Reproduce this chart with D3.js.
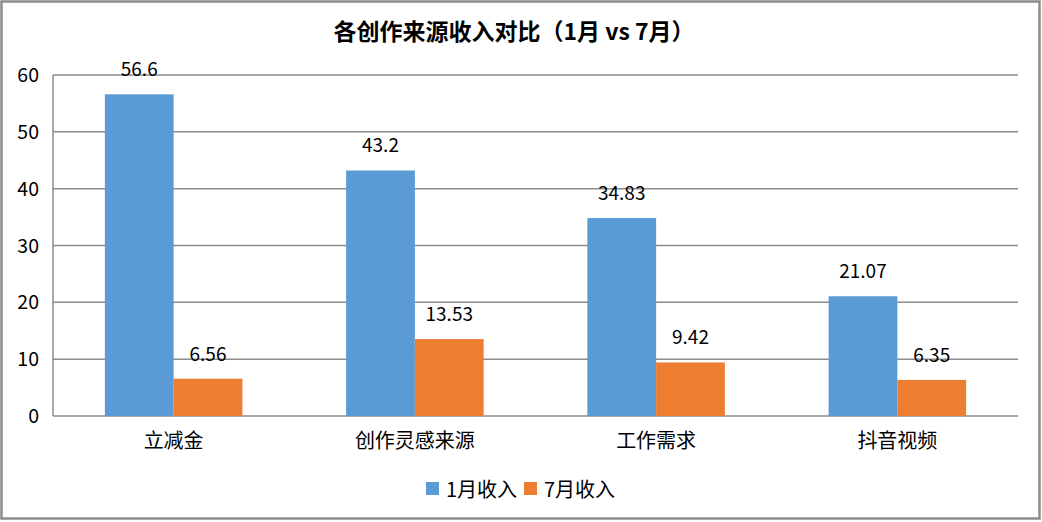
<!DOCTYPE html>
<html>
<head>
<meta charset="utf-8">
<script src="https://cdn.jsdelivr.net/npm/d3@7"></script>
<style>
  body { margin: 0; background: #fff; }
  text { font-family: "Noto Sans CJK SC", "Noto Sans", sans-serif; fill: #000; }
</style>
</head>
<body>
<div class="chart"></div>
<script>
const categories = ['立减金', '创作灵感来源', '工作需求', '抖音视频'];
const seriesNames = ['1月收入', '7月收入'];
const janValues = [56.6, 43.2, 34.83, 21.07];
const julValues = [6.56, 13.53, 9.42, 6.35];
const yTicks = [0, 10, 20, 30, 40, 50, 60];
const colors = ['#5b9bd5', '#ed7d31'];

const width = 1042;
const height = 522;
const margin = {top: 75, right: 24, bottom: 106, left: 53};

const svg = d3.select('.chart')
  .append('svg')
    .attr('width', width)
    .attr('height', height);

// outer border
svg.append('rect')
  .attr('x', 1.5).attr('y', 1.5)
  .attr('width', width - 4).attr('height', height - 5)
  .attr('fill', '#fff')
  .attr('stroke', '#8c8c8c')
  .attr('stroke-width', 2.5);

const x0 = d3.scaleBand()
  .domain(categories)
  .range([margin.left, width - margin.right]);

const x1 = d3.scaleBand()
  .domain(seriesNames)
  .range([x0.bandwidth() * 0.215, x0.bandwidth() * 0.785]);

const y = d3.scaleLinear()
  .domain([0, 60])
  .range([height - margin.bottom, margin.top]);

// gridlines
svg.append('g')
  .selectAll('line')
  .data(yTicks)
  .enter()
  .append('line')
    .attr('x1', margin.left)
    .attr('x2', width - margin.right)
    .attr('y1', d => y(d))
    .attr('y2', d => y(d))
    .attr('stroke', '#8c8c8c')
    .attr('stroke-width', 1.5);

// left axis line
svg.append('line')
  .attr('x1', margin.left).attr('x2', margin.left)
  .attr('y1', y(60)).attr('y2', y(0))
  .attr('stroke', '#8c8c8c')
  .attr('stroke-width', 1.5);

// y tick labels
svg.append('g')
  .selectAll('text')
  .data(yTicks)
  .enter()
  .append('text')
    .attr('x', 39)
    .attr('y', d => y(d) + 7)
    .style('text-anchor', 'end')
    .style('font-size', '19.5px')
    .text(d => d);

// bars
const rows = categories.map((c, i) => ({cat: c, vals: [janValues[i], julValues[i]]}));

const groups = svg.append('g')
  .selectAll('g')
  .data(rows)
  .enter()
  .append('g')
    .attr('transform', d => `translate(${x0(d.cat)},0)`);

const barData = d => d.vals.map((v, j) => ({name: seriesNames[j], value: v, idx: j}));

groups.selectAll('rect')
  .data(barData)
  .enter()
  .append('rect')
    .attr('x', d => x1(d.name))
    .attr('y', d => y(d.value))
    .attr('width', x1.bandwidth())
    .attr('height', d => y(0) - y(d.value))
    .attr('fill', d => colors[d.idx]);

groups.selectAll('text.val')
  .data(barData)
  .enter()
  .append('text')
    .attr('class', 'val')
    .attr('x', d => x1(d.name) + x1.bandwidth() / 2)
    .attr('y', d => y(d.value) - 18)
    .style('text-anchor', 'middle')
    .style('font-size', '19px')
    .text(d => d.value);

// category labels
svg.append('g')
  .selectAll('text')
  .data(categories)
  .enter()
  .append('text')
    .attr('x', d => x0(d) + x0.bandwidth() / 2)
    .attr('y', y(0) + 32)
    .style('text-anchor', 'middle')
    .style('font-size', '20px')
    .text(d => d);

// title
svg.append('text')
  .attr('x', width / 2 - 7)
  .attr('y', 40)
  .style('text-anchor', 'middle')
  .style('font-size', '23px')
  .style('font-weight', 'bold')
  .text('各创作来源收入对比（1月 vs 7月）');

// legend
const legendX = [426, 524];
const legend = svg.append('g')
  .selectAll('g')
  .data(seriesNames)
  .enter()
  .append('g')
    .attr('transform', (d, i) => `translate(${legendX[i]},482)`);

legend.append('rect')
  .attr('width', 13)
  .attr('height', 13)
  .attr('fill', (d, i) => colors[i]);

legend.append('text')
  .attr('x', 20)
  .attr('y', 15)
  .style('font-size', '20px')
  .text(d => d);
</script>
</body>
</html>
